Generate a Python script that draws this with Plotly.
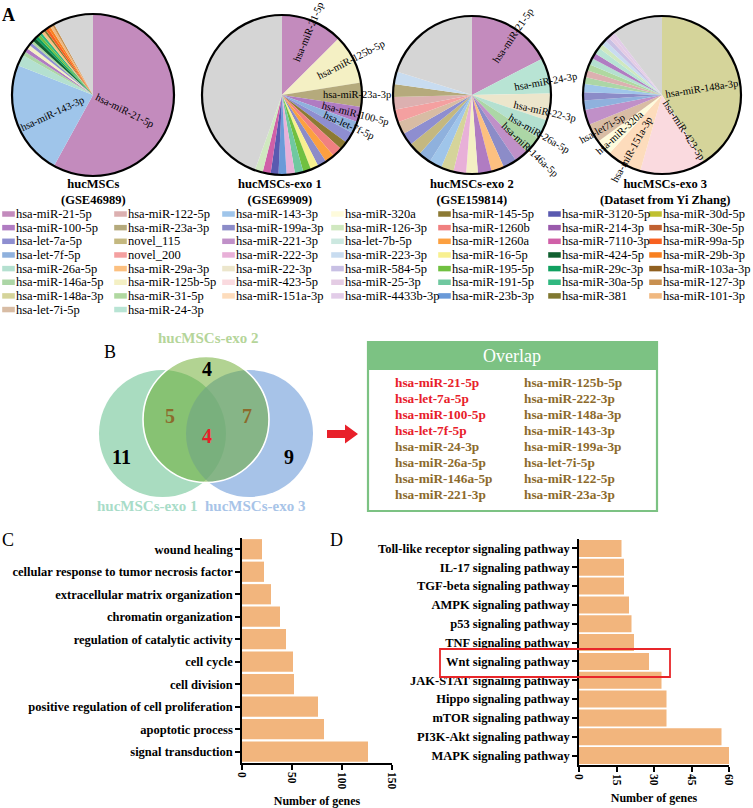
import math
import plotly.graph_objects as go

W, H = 753, 808
SERIF = "Liberation Serif"

# ---------------- DATA ----------------
legend_col1 = ["hsa-miR-21-5p", "hsa-miR-100-5p", "hsa-let-7a-5p", "hsa-let-7f-5p",
               "hsa-miR-26a-5p", "hsa-miR-146a-5p", "hsa-miR-148a-3p", "hsa-let-7i-5p"]
legend_col2 = ["hsa-miR-122-5p", "hsa-miR-23a-3p", "novel_115", "novel_200",
               "hsa-miR-29a-3p", "hsa-miR-125b-5p", "hsa-miR-31-5p", "hsa-miR-24-3p"]
legend_col3 = ["hsa-miR-143-3p", "hsa-miR-199a-3p", "hsa-miR-221-3p", "hsa-miR-222-3p",
               "hsa-miR-22-3p", "hsa-miR-423-5p", "hsa-miR-151a-3p"]
legend_col4 = ["hsa-miR-320a", "hsa-miR-126-3p", "hsa-let-7b-5p", "hsa-miR-223-3p",
               "hsa-miR-584-5p", "hsa-miR-25-3p", "hsa-miR-4433b-3p"]
legend_col5 = ["hsa-miR-145-5p", "hsa-miR-1260b", "hsa-miR-1260a", "hsa-miR-16-5p",
               "hsa-miR-195-5p", "hsa-miR-191-5p", "hsa-miR-23b-3p"]
legend_col6 = ["hsa-miR-3120-5p", "hsa-miR-214-3p", "hsa-miR-7110-3p", "hsa-miR-424-5p",
               "hsa-miR-29c-3p", "hsa-miR-30a-5p", "hsa-miR-381"]
legend_col7 = ["hsa-miR-30d-5p", "hsa-miR-30e-5p", "hsa-miR-99a-5p", "hsa-miR-29b-3p",
               "hsa-miR-103a-3p", "hsa-miR-127-3p", "hsa-miR-101-3p"]

pie1_labels = ["hsa-miR-21-5p", "hsa-miR-143-3p", "hsa-miR-26a-5p", "hsa-miR-146a-5p",
               "hsa-miR-100-5p", "hsa-miR-125b-5p", "hsa-let-7a-5p", "hsa-miR-31-5p",
               "hsa-miR-424-5p", "hsa-miR-29c-3p", "hsa-miR-195-5p", "hsa-miR-30a-5p",
               "hsa-miR-29a-3p", "hsa-miR-381", "hsa-miR-99a-5p", "hsa-miR-29b-3p",
               "hsa-miR-101-3p", "hsa-miR-127-3p", "Others"]
pie1_values = [58, 23, 2.2, 0.8, 0.8, 0.8, 0.6, 0.5, 0.7, 0.6, 0.5, 0.5, 0.6, 0.4,
               0.6, 0.5, 0.5, 0.4, 8.0]

pie2_labels = ["hsa-miR-21-5p", "hsa-miR-125b-5p", "hsa-miR-23a-3p", "hsa-miR-100-5p",
               "hsa-let-7f-5p", "hsa-let-7a-5p", "hsa-miR-145-5p", "hsa-miR-1260b",
               "hsa-miR-1260a", "hsa-miR-199a-3p", "hsa-miR-16-5p", "hsa-miR-195-5p",
               "hsa-miR-191-5p", "hsa-miR-222-3p", "hsa-miR-23b-3p", "hsa-miR-3120-5p",
               "hsa-miR-7110-3p", "hsa-miR-126-3p", "Others"]
pie2_values = [12.5, 10.0, 4.9, 3.1, 2.4, 2.2, 1.7, 2.0, 1.9, 1.8, 1.6, 1.6, 1.7, 1.7,
               1.6, 1.6, 1.6, 1.6, 44.5]

pie3_labels = ["hsa-miR-21-5p", "hsa-miR-24-3p", "hsa-miR-22-3p", "hsa-miR-26a-5p",
               "hsa-miR-146a-5p", "hsa-miR-221-3p", "hsa-miR-199a-3p", "hsa-miR-29a-3p",
               "hsa-miR-100-5p", "hsa-miR-125b-5p", "hsa-miR-222-3p", "hsa-miR-148a-3p",
               "hsa-miR-143-3p", "hsa-let-7f-5p", "novel_115", "hsa-let-7a-5p",
               "hsa-let-7i-5p", "novel_200", "hsa-miR-122-5p", "hsa-miR-23a-3p",
               "hsa-miR-223-3p", "Others"]
pie3_values = [17.4, 7.3, 5.5, 4.0, 3.6, 2.8, 2.8, 2.6, 2.8, 2.4, 2.6, 2.6, 2.6, 2.6,
               2.6, 2.6, 2.6, 2.6, 2.6, 2.6, 2.6, 20.2]

pie4_labels = ["hsa-miR-148a-3p", "hsa-miR-423-5p", "hsa-miR-151a-3p", "hsa-miR-320a",
               "hsa-let-7i-5p", "hsa-miR-221-3p", "hsa-let-7f-5p", "hsa-miR-199a-3p",
               "hsa-miR-143-3p", "hsa-miR-146a-5p", "hsa-miR-122-5p", "hsa-miR-31-5p",
               "hsa-miR-26a-5p", "hsa-miR-100-5p", "hsa-miR-24-3p", "hsa-miR-126-3p",
               "hsa-miR-223-3p", "hsa-miR-584-5p", "hsa-miR-25-3p", "hsa-miR-4433b-3p",
               "Others"]
pie4_values = [41.1, 13.3, 7.2, 3.3, 3.9, 3.1, 1.9, 1.7, 1.7, 1.4, 1.4, 1.3, 1.3, 1.2,
               1.3, 1.0, 1.0, 0.9, 0.8, 0.7, 10.4]

pie_titles = ["hucMSCs<br>(GSE46989)", "hucMSCs-exo 1<br>(GSE69909)",
              "hucMSCs-exo 2<br>(GSE159814)", "hucMSCs-exo 3<br>(Dataset from Yi Zhang)"]

# labelled slices: (slice label, displayed text)
pie1_tags = [("hsa-miR-21-5p", "hsa-miR-21-5p"), ("hsa-miR-143-3p", "hsa-miR-143-3p")]
pie2_tags = [("hsa-miR-21-5p", "hsa-miR-21-5p"), ("hsa-miR-125b-5p", "hsa-miR-125b-5p"),
             ("hsa-miR-23a-3p", "hsa-miR-23a-3p"), ("hsa-miR-100-5p", "hsa-miR-100-5p"),
             ("hsa-let-7f-5p", "hsa-let-7f-5p")]
pie3_tags = [("hsa-miR-21-5p", "hsa-miR-21-5p"), ("hsa-miR-24-3p", "hsa-miR-24-3p"),
             ("hsa-miR-22-3p", "hsa-miR-22-3p"), ("hsa-miR-26a-5p", "hsa-miR-26a-5p"),
             ("hsa-miR-146a-5p", "hsa-miR-146a-5p")]
pie4_tags = [("hsa-miR-148a-3p", "hsa-miR-148a-3p"), ("hsa-miR-423-5p", "hsa-miR-423-5p"),
             ("hsa-miR-151a-3p", "hsa-miR-151a-3p"), ("hsa-miR-320a", "hsa-miR-320a"),
             ("hsa-let-7i-5p", "hsa-let7i-5p")]

venn_names = ["hucMSCs-exo 1", "hucMSCs-exo 2", "hucMSCs-exo 3"]
venn_only = [11, 4, 9]          # exo1 only, exo2 only, exo3 only
venn_pair = [5, 7]              # exo1&exo2, exo2&exo3
venn_all = 4

overlap_title = "Overlap"
overlap_col1_red = ["hsa-miR-21-5p", "hsa-let-7a-5p", "hsa-miR-100-5p", "hsa-let-7f-5p"]
overlap_col1_brown = ["hsa-miR-24-3p", "hsa-miR-26a-5p", "hsa-miR-146a-5p", "hsa-miR-221-3p"]
overlap_col2_brown = ["hsa-miR-125b-5p", "hsa-miR-222-3p", "hsa-miR-148a-3p", "hsa-miR-143-3p",
                      "hsa-miR-199a-3p", "hsa-let-7i-5p", "hsa-miR-122-5p", "hsa-miR-23a-3p"]

go_terms = ["wound healing", "cellular response to tumor necrosis factor",
            "extracellular matrix organization", "chromatin organization",
            "regulation of catalytic activity", "cell cycle", "cell division",
            "positive regulation of cell proliferation", "apoptotic process",
            "signal transduction"]
go_counts = [20, 22, 29, 38, 44, 51, 52, 76, 82, 126]

kegg_terms = ["Toll-like receptor signaling pathway", "IL-17 signaling pathway",
              "TGF-beta signaling pathway", "AMPK signaling pathway",
              "p53 signaling pathway", "TNF signaling pathway", "Wnt signaling pathway",
              "JAK-STAT signaling pathway", "Hippo signaling pathway",
              "mTOR signaling pathway", "PI3K-Akt signaling pathway",
              "MAPK signaling pathway"]
kegg_counts = [17, 18, 18, 20, 21, 22, 28, 33, 35, 35, 57, 60]

go_ticks = [0, 50, 100, 150]
kegg_ticks = [0, 15, 30, 45, 60]

# ---------------- STYLE ----------------
color_of = {
    "hsa-miR-21-5p": "#c38bbd", "hsa-miR-100-5p": "#b07cc2", "hsa-let-7a-5p": "#8e8ed0",
    "hsa-let-7f-5p": "#8fb1dd", "hsa-miR-26a-5p": "#b4e0d0", "hsa-miR-146a-5p": "#acd6a6",
    "hsa-miR-148a-3p": "#d5d49a", "hsa-let-7i-5p": "#d8bca4",
    "hsa-miR-122-5p": "#dcb0b0", "hsa-miR-23a-3p": "#b5aa7c", "novel_115": "#c4b880",
    "novel_200": "#f4a0a0", "hsa-miR-29a-3p": "#fcc080", "hsa-miR-125b-5p": "#f4f0c4",
    "hsa-miR-31-5p": "#b0d8a0", "hsa-miR-24-3p": "#b8e4d4",
    "hsa-miR-143-3p": "#9fc5ea", "hsa-miR-199a-3p": "#8c8cc8", "hsa-miR-221-3p": "#c090c8",
    "hsa-miR-222-3p": "#e8b0d8", "hsa-miR-22-3p": "#ece6cc", "hsa-miR-423-5p": "#fadadf",
    "hsa-miR-151a-3p": "#fddcbc",
    "hsa-miR-320a": "#fefbdc", "hsa-miR-126-3p": "#d0e8c0", "hsa-let-7b-5p": "#cce8e0",
    "hsa-miR-223-3p": "#c8dcf0", "hsa-miR-584-5p": "#c8c0e4", "hsa-miR-25-3p": "#e4cce4",
    "hsa-miR-4433b-3p": "#e2cce8",
    "hsa-miR-145-5p": "#8c7a34", "hsa-miR-1260b": "#f08080", "hsa-miR-1260a": "#fca040",
    "hsa-miR-16-5p": "#f8f090", "hsa-miR-195-5p": "#70c040", "hsa-miR-191-5p": "#70c8a0",
    "hsa-miR-23b-3p": "#6a9ad8",
    "hsa-miR-3120-5p": "#5a5ab0", "hsa-miR-214-3p": "#9a5aac", "hsa-miR-7110-3p": "#d060a8",
    "hsa-miR-424-5p": "#106030", "hsa-miR-29c-3p": "#10a060", "hsa-miR-30a-5p": "#30b880",
    "hsa-miR-381": "#807830",
    "hsa-miR-30d-5p": "#c0c030", "hsa-miR-30e-5p": "#c06030", "hsa-miR-99a-5p": "#f86020",
    "hsa-miR-29b-3p": "#f88020", "hsa-miR-103a-3p": "#906020", "hsa-miR-127-3p": "#c89050",
    "hsa-miR-101-3p": "#f0b880",
    "Others": "#d5d5d5",
}
BAR = "#f2b57d"
RED = "#e8202a"
BROWN = "#8c6a2c"
GREEN_BOX = "#7cc283"

# pie geometry (pixels): centre x, centre y, radius
pie_geom = [(93, 95, 81), (282, 95, 80), (472, 95, 79), (662, 95, 79)]
# label style per pie: inner radius fraction and angle nudge per tag
tag_style = [
    [(0.05, 12), (0.13, -5)],
    [(0.47, 0), (0.52, 0), (0.52, 0), (0.52, 0), (0.53, 0)],
    [(0.52, 3), (0.55, 4), (0.55, 4), (0.55, 4), (0.55, 4)],
    [(0.06, 7), (0.10, -25), (0.33, 0), (0.35, 0), (0.50, 0)],
]
PIE_FS = 10.5
LEG_FS = 12.5

fig = go.Figure()
pies = [(pie1_labels, pie1_values, pie1_tags), (pie2_labels, pie2_values, pie2_tags),
        (pie3_labels, pie3_values, pie3_tags), (pie4_labels, pie4_values, pie4_tags)]

annotations = []
shapes = []

for i, (labs, vals, tags) in enumerate(pies):
    cx, cy, r = pie_geom[i]
    fig.add_trace(go.Pie(
        labels=labs, values=vals, sort=False, direction="clockwise", rotation=0,
        marker=dict(colors=[color_of[l] for l in labs], line=dict(width=0)),
        textinfo="none", hoverinfo="label+percent", showlegend=False,
        domain=dict(x=[(cx - r) / W, (cx + r) / W], y=[1 - (cy + r) / H, 1 - (cy - r) / H]),
    ))
    shapes.append(dict(type="circle", xref="x3", yref="y3", x0=cx - r, x1=cx + r,
                       y0=cy - r, y1=cy + r, line=dict(color="black", width=2.2),
                       layer="above"))
    total = sum(vals)
    for (lab, txt), (rin, dth) in zip(tags, tag_style[i]):
        cum = 0
        for l, v in zip(labs, vals):
            if l == lab:
                mid = 360 * (cum + v / 2) / total
                break
            cum += v
        th = mid + dth
        L = len(txt) * 0.46 * PIE_FS
        rc = rin * r + L / 2
        x = cx + rc * math.sin(math.radians(th))
        y = cy - rc * math.cos(math.radians(th))
        ang = th - 90 if (th % 360) < 180 else th - 270
        annotations.append(dict(x=x, y=y, xref="x3", yref="y3", text=txt, showarrow=False,
                                textangle=ang, xanchor="center", yanchor="middle",
                                font=dict(size=PIE_FS, family=SERIF, color="black")))
    annotations.append(dict(x=[93, 280, 472, 665][i], y=192, xref="x3", yref="y3",
                            text=pie_titles[i], showarrow=False, align="center",
                            xanchor="center", yanchor="middle",
                            font=dict(size=12.5, family=SERIF, color="black", weight="bold")))

# ----- legend (manual, column-major) -----
legend_cols = [legend_col1, legend_col2, legend_col3, legend_col4,
               legend_col5, legend_col6, legend_col7]
col_x = [4, 116, 224, 333, 440, 550, 651]
row_y0, row_dy = 214, 13.65
lx, ly, lc = [], [], []
for ci, col in enumerate(legend_cols):
    for ri, lab in enumerate(col):
        x = col_x[ci]
        y = row_y0 + ri * row_dy
        lx.append(x + 4.5)
        ly.append(y)
        lc.append(color_of[lab])
        annotations.append(dict(x=x + 11, y=y, xref="x3", yref="y3", text=lab,
                                showarrow=False, xanchor="left", yanchor="middle",
                                borderpad=0,
                                font=dict(size=LEG_FS, family=SERIF, color="black")))
fig.add_trace(go.Scatter(x=lx, y=ly, mode="markers", xaxis="x3", yaxis="y3",
                         marker=dict(symbol="line-ew", size=9, line=dict(width=5.5, color=lc)),
                         hoverinfo="skip", showlegend=False))

# ----- bars -----
fig.add_trace(go.Bar(y=go_terms, x=go_counts, orientation="h", xaxis="x", yaxis="y",
                     marker=dict(color=BAR, line=dict(width=0)), showlegend=False))
fig.add_trace(go.Bar(y=kegg_terms, x=kegg_counts, orientation="h", xaxis="x2", yaxis="y2",
                     marker=dict(color=BAR, line=dict(width=0)), showlegend=False))

# ----- Venn -----
c1 = (162.5, 433.5, 63.5)
c2 = (206.0, 419.5, 63.0)
c3 = (249.5, 433.5, 63.5)
shapes.append(dict(type="circle", xref="x3", yref="y3", x0=c1[0] - c1[2], x1=c1[0] + c1[2],
                   y0=c1[1] - c1[2], y1=c1[1] + c1[2], fillcolor="#a9dcc0",
                   line=dict(width=0), layer="above"))
shapes.append(dict(type="circle", xref="x3", yref="y3", x0=c3[0] - c3[2], x1=c3[0] + c3[2],
                   y0=c3[1] - c3[2], y1=c3[1] + c3[2], fillcolor="rgba(129,169,222,0.7)",
                   line=dict(width=0), layer="above"))
shapes.append(dict(type="circle", xref="x3", yref="y3", x0=c2[0] - c2[2], x1=c2[0] + c2[2],
                   y0=c2[1] - c2[2], y1=c2[1] + c2[2], fillcolor="rgba(101,167,37,0.5)",
                   line=dict(width=1.6, color="white"), layer="above"))

venn_label_pos = [(147, 506, "#a8dcc8"), (208, 338, "#b5d59a"), (255, 506, "#a8c4e8")]
for name, (x, y, col) in zip(venn_names, venn_label_pos):
    annotations.append(dict(x=x, y=y, xref="x3", yref="y3", text=name, showarrow=False,
                            font=dict(size=15, family=SERIF, color=col, weight="bold")))
num_font = dict(size=20, family=SERIF, weight="bold")
for val, (x, y) in zip(venn_only, [(121, 457), (207, 369), (289, 457)]):
    annotations.append(dict(x=x, y=y, xref="x3", yref="y3", text=str(val), showarrow=False,
                            font=dict(num_font, color="black")))
for val, (x, y) in zip(venn_pair, [(170, 416), (247, 416)]):
    annotations.append(dict(x=x, y=y, xref="x3", yref="y3", text=str(val), showarrow=False,
                            font=dict(num_font, color=BROWN)))
annotations.append(dict(x=207, y=436, xref="x3", yref="y3", text=str(venn_all), showarrow=False,
                        font=dict(num_font, color=RED)))

# arrow
shapes.append(dict(type="path", xref="x3", yref="y3",
                   path="M 327 430 L 345 430 L 345 424.5 L 358 434 L 345 443.5 L 345 438 L 327 438 Z",
                   fillcolor=RED, line=dict(width=0), layer="above"))

# overlap box
shapes.append(dict(type="rect", xref="x3", yref="y3", x0=367, x1=657, y0=341, y1=370,
                   fillcolor=GREEN_BOX, line=dict(width=0), layer="above"))
shapes.append(dict(type="rect", xref="x3", yref="y3", x0=368, x1=657, y0=342, y1=511,
                   fillcolor="rgba(0,0,0,0)", line=dict(width=2.2, color=GREEN_BOX),
                   layer="above"))
annotations.append(dict(x=512, y=356, xref="x3", yref="y3", text=overlap_title, showarrow=False,
                        font=dict(size=18, family=SERIF, color="white")))
ov_font = dict(size=13.3, family=SERIF, weight="bold")
col1_items = [(t, RED) for t in overlap_col1_red] + [(t, BROWN) for t in overlap_col1_brown]
for k, (t, c) in enumerate(col1_items):
    annotations.append(dict(x=393, y=382 + 16 * k, xref="x3", yref="y3", text=t,
                            showarrow=False, xanchor="left", font=dict(ov_font, color=c)))
for k, t in enumerate(overlap_col2_brown):
    annotations.append(dict(x=522, y=382 + 16 * k, xref="x3", yref="y3", text=t,
                            showarrow=False, xanchor="left", font=dict(ov_font, color=BROWN)))

# highlight rectangle around Wnt row
shapes.append(dict(type="rect", xref="x3", yref="y3", x0=440, x1=670, y0=649, y1=677,
                   line=dict(color="#e8262a", width=1.8), fillcolor="rgba(0,0,0,0)",
                   layer="above"))

# panel letters
for txt, x, y, bold in [("A", 8, 15, True), ("B", 110, 352, False),
                        ("C", 8, 540, False), ("D", 336, 540, False)]:
    annotations.append(dict(x=x, y=y, xref="x3", yref="y3", text=txt, showarrow=False,
                            font=dict(size=18, family=SERIF, color="black",
                                      weight="bold" if bold else "normal")))

axis_common = dict(showline=True, linecolor="black", linewidth=1.5, ticks="outside",
                   ticklen=5, tickwidth=1.5, tickcolor="black", showgrid=False,
                   zeroline=False, automargin=False)
xtick_font = dict(size=11.5, family=SERIF, color="black", weight="bold")
ytick_font = dict(size=12.5, family=SERIF, color="black", weight="bold")
xtitle = dict(text="Number of genes", font=dict(size=12, family=SERIF, color="black",
                                                weight="bold"), standoff=9)

fig.update_layout(
    width=W, height=H, margin=dict(l=0, r=0, t=0, b=0), template="none",
    paper_bgcolor="white", plot_bgcolor="rgba(0,0,0,0)", bargap=0.1,
    font=dict(family=SERIF, color="black"), showlegend=False,
    xaxis=dict(axis_common, domain=[242 / W, 392 / W], range=[0, 150], tickvals=go_ticks,
               anchor="y", tickangle=90, tickfont=xtick_font, title=xtitle),
    yaxis=dict(axis_common, domain=[1 - 763 / H, 1 - 538 / H], anchor="x",
               autorange="reversed", tickfont=ytick_font),
    xaxis2=dict(axis_common, domain=[579 / W, 729 / W], range=[0, 60], tickvals=kegg_ticks,
                anchor="y2", tickangle=90, tickfont=xtick_font, title=xtitle),
    yaxis2=dict(axis_common, domain=[1 - 765 / H, 1 - 539 / H], anchor="x2",
                autorange="reversed", tickfont=ytick_font),
    xaxis3=dict(domain=[0, 1], range=[0, W], visible=False, fixedrange=True, anchor="y3"),
    yaxis3=dict(domain=[0, 1], range=[H, 0], visible=False, fixedrange=True, anchor="x3"),
    shapes=shapes, annotations=annotations,
)

fig.write_html(
    "out.html",
    config={"displayModeBar": False},
    post_script="document.body.style.margin='0';document.body.style.padding='0';"
                "document.body.style.overflow='hidden';",
)
